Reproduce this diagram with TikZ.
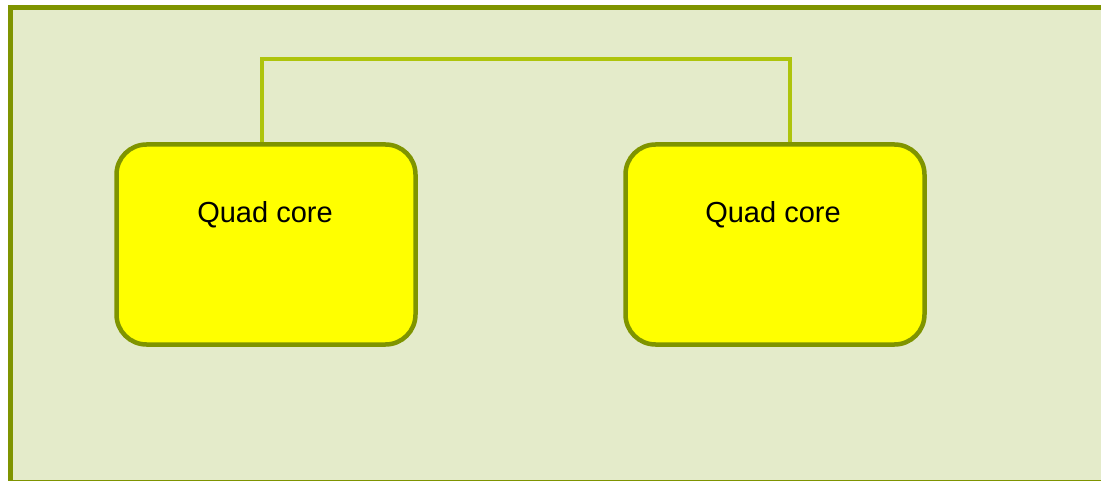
\documentclass[tikz,border=0pt]{standalone}
\usepackage{fontspec}
\setmainfont{Liberation Sans}
\definecolor{panelfill}{HTML}{E4EBCA}
\definecolor{panelline}{HTML}{7F9400}
\definecolor{corefill}{HTML}{FFFF00}
\definecolor{linkline}{HTML}{AEC40C}
\begin{document}
\begin{tikzpicture}[x=1pt,y=-1pt,
  panel/.style={draw=panelline,fill=panelfill,line width=5pt},
  corebox/.style={draw=panelline,fill=corefill,line width=4.5pt,rounded corners=30pt},
  link/.style={draw=linkline,line width=4pt},
  corelabel/.style={font=\fontsize{29}{34}\selectfont,anchor=base}]
  \useasboundingbox (0,0) rectangle (1101,481);
  \clip (0,0) rectangle (1101,481);
  % enclosing board, running past the right and bottom edges
  \draw[panel] (10.5,7.5) rectangle (1110,482);
  % the two processors
  \draw[corebox] (116.5,144.5) rectangle (415.5,344.5);
  \draw[corebox] (625.5,144.5) rectangle (924.5,344.5);
  \node[corelabel] (c1) at (265,223) {Quad core};
  \node[corelabel] (c2) at (773,223) {Quad core};
  % interconnect between the cores
  \coordinate (p1) at (262,142);
  \coordinate (p2) at (789.5,142);
  \draw[link] (p1) |- (789.5,59) -- (p2);
\end{tikzpicture}
\end{document}
